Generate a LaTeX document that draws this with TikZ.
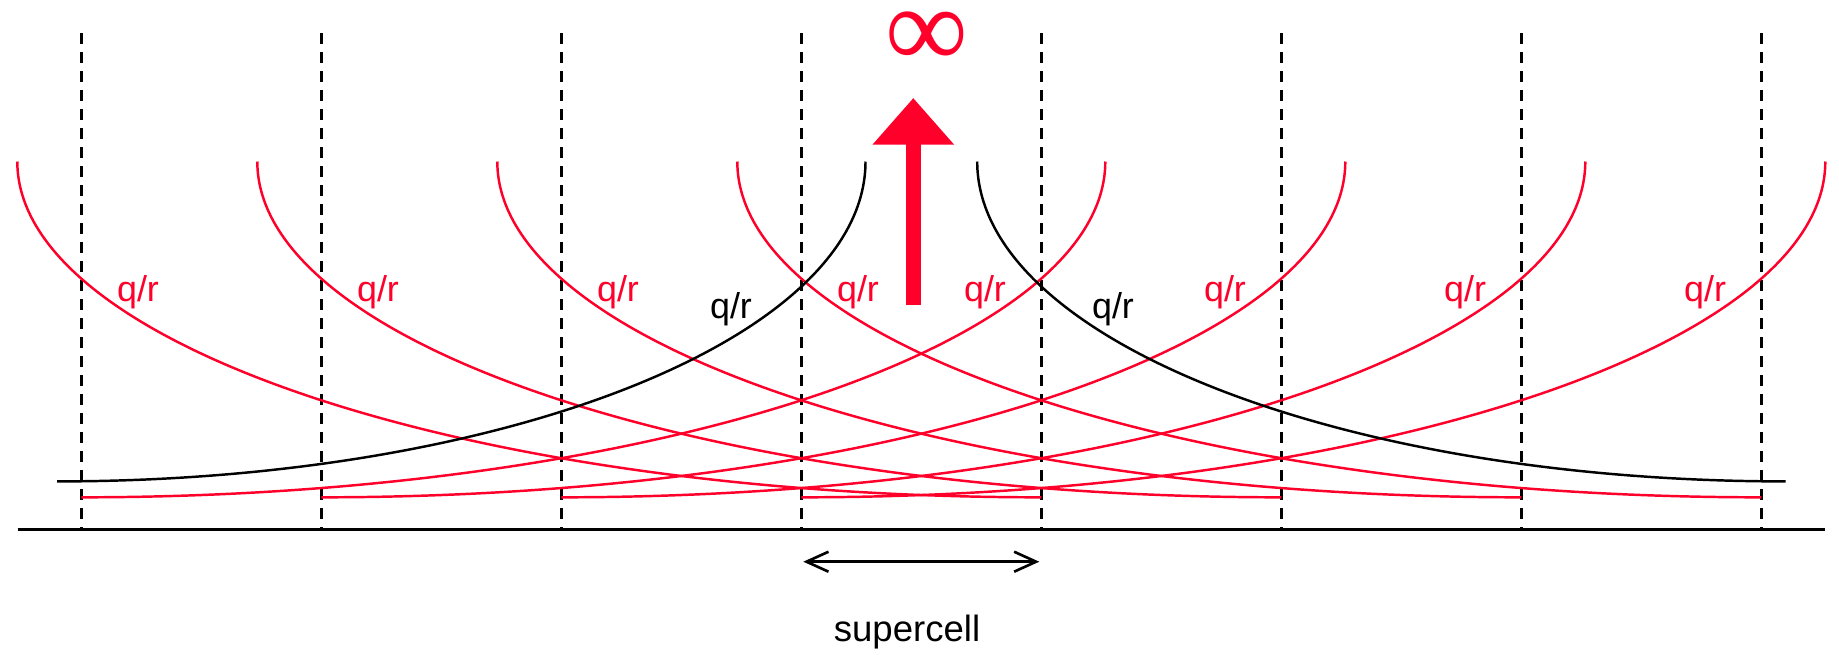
\documentclass[tikz,border=0pt]{standalone}
\usepackage{fontspec}
\setmainfont{Liberation Sans}
\newfontfamily\inffont{Liberation Serif}
\usetikzlibrary{arrows.meta}
\definecolor{potred}{RGB}{255,0,43}
\begin{document}
\begin{tikzpicture}[line width=0.7pt,
  cellwall/.style={dash pattern=on 3.1pt off 2.3pt},
  imagepot/.style={potred},
  qlab/.style={anchor=base,font=\fontsize{10.2}{12}\selectfont}]
\useasboundingbox (0,0) rectangle (18.39,6.54);
% cell walls
\foreach \m in {0,...,7}
  \draw[cellwall] (0.813+2.4*\m,6.206) -- (0.813+2.4*\m,1.247);
% images of the charge
\foreach \k in {0,...,3} {
  \draw[imagepot] (0.173+2.4*\k,4.925) arc[start angle=180,end angle=270,x radius=10.24,y radius=3.358];
  \draw[imagepot] (0.813+2.4*\k,1.567) arc[start angle=270,end angle=360,x radius=10.24,y radius=3.358];
  \node[qlab,potred] (qrL\k) at (1.38+2.4*\k,3.523) {q/r};
  \node[qlab,potred] (qrR\k) at (9.85+2.4*\k,3.523) {q/r};
}
% charge in the supercell
\draw (0.57,1.726) arc[start angle=270,end angle=360,x radius=8.085,y radius=3.199];
\draw (9.772,4.925) arc[start angle=180,end angle=270,x radius=8.085,y radius=3.199];
\node[qlab] (qrA) at (7.31,3.36) {q/r};
\node[qlab] (qrB) at (11.13,3.36) {q/r};
\draw (0.177,1.247) -- (18.253,1.247);
% divergence
\coordinate (upfoot) at (9.133,3.49);
\coordinate (uptip) at (9.133,5.56);
\draw[potred,line width=0.153cm,-{Triangle[length=0.467cm,width=0.787cm]}] (upfoot) -- (uptip);
\node[potred,inner sep=0pt,font=\inffont\fontsize{33}{33}\selectfont] (inf) at (9.265,6.145) {∞};
% supercell length
\coordinate (scL) at (8.033,0.923);
\coordinate (scR) at (10.393,0.923);
\draw[line width=0.75pt,{Straight Barb[length=0.22cm,width=0.2cm]}-{Straight Barb[length=0.22cm,width=0.2cm]}] (scL) -- (scR);
\node[anchor=base,font=\fontsize{10.4}{12}\selectfont] (sc) at (9.07,0.13) {supercell};
\end{tikzpicture}
\end{document}
